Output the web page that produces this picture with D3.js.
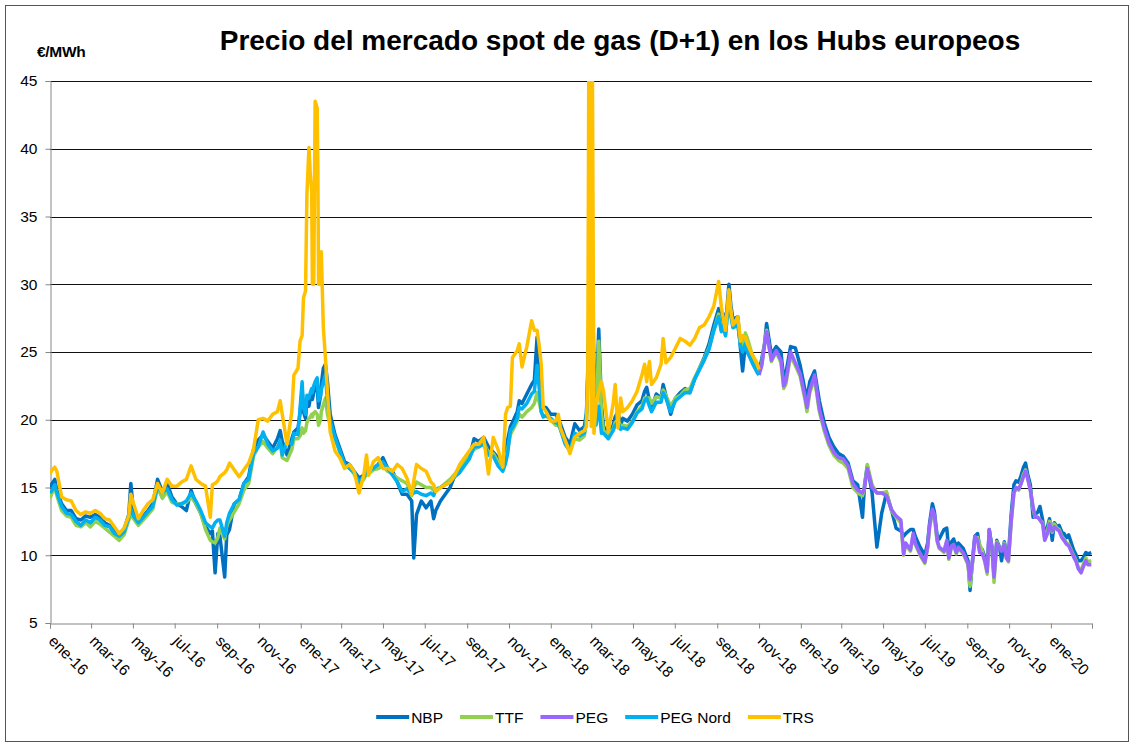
<!DOCTYPE html>
<html lang="es">
<head>
<meta charset="UTF-8">
<title>Precio del mercado spot de gas (D+1)</title>
<script src="https://d3js.org/d3.v7.min.js"></script>
<style>
  body { margin: 0; background: #fff; }
  svg text { font-family: Arial, "Liberation Sans", sans-serif; fill: #000; }
</style>
</head>
<body>
<svg width="1131" height="743"></svg>
<script>
// fechas (aprox. semanales, con días extra en los picos)
const dates = [
  "2016-01-01","2016-01-04","2016-01-08","2016-01-11","2016-01-18","2016-01-25","2016-02-01","2016-02-08","2016-02-15","2016-02-22","2016-02-29","2016-03-07","2016-03-14","2016-03-21","2016-03-28","2016-04-04","2016-04-11","2016-04-18","2016-04-25","2016-04-28",
  "2016-05-02","2016-05-09","2016-05-16","2016-05-23","2016-05-30","2016-06-06","2016-06-13","2016-06-20","2016-06-27","2016-07-04","2016-07-11","2016-07-18","2016-07-25","2016-08-01","2016-08-08","2016-08-15","2016-08-22","2016-08-25","2016-08-29",
  "2016-09-02","2016-09-05","2016-09-12","2016-09-15","2016-09-19","2016-09-26","2016-10-03","2016-10-10","2016-10-17","2016-10-24","2016-10-31","2016-11-07","2016-11-14","2016-11-21","2016-11-28","2016-12-02","2016-12-05","2016-12-12","2016-12-19","2016-12-22","2016-12-28","2016-12-31",
  "2017-01-03","2017-01-05","2017-01-08","2017-01-10","2017-01-13","2017-01-15","2017-01-17","2017-01-18","2017-01-20","2017-01-22","2017-01-25","2017-01-26","2017-01-27","2017-01-30","2017-01-31","2017-02-03","2017-02-06","2017-02-09","2017-02-13","2017-02-20","2017-02-27",
  "2017-03-06","2017-03-13","2017-03-20","2017-03-27","2017-04-03","2017-04-07","2017-04-10","2017-04-17","2017-04-24","2017-05-01","2017-05-08","2017-05-15","2017-05-22","2017-05-29","2017-06-05","2017-06-12","2017-06-15","2017-06-19","2017-06-26",
  "2017-07-03","2017-07-10","2017-07-14","2017-07-17","2017-07-24","2017-07-31","2017-08-07","2017-08-14","2017-08-21","2017-08-28","2017-09-04","2017-09-11","2017-09-18","2017-09-25","2017-10-02","2017-10-09","2017-10-16","2017-10-23","2017-10-27","2017-10-30",
  "2017-11-03","2017-11-06","2017-11-13","2017-11-16","2017-11-20","2017-11-27","2017-12-04","2017-12-08","2017-12-12","2017-12-15","2017-12-18","2017-12-21","2017-12-25",
  "2018-01-01","2018-01-08","2018-01-12","2018-01-15","2018-01-22","2018-01-29","2018-02-05","2018-02-12","2018-02-19","2018-02-22","2018-02-24","2018-02-26","2018-02-28","2018-03-01","2018-03-02","2018-03-05","2018-03-08","2018-03-12","2018-03-16","2018-03-19","2018-03-26",
  "2018-04-02","2018-04-05","2018-04-09","2018-04-13","2018-04-16","2018-04-23","2018-04-30","2018-05-07","2018-05-14","2018-05-18","2018-05-21","2018-05-25","2018-05-28","2018-06-04","2018-06-11","2018-06-14","2018-06-18","2018-06-25",
  "2018-07-02","2018-07-09","2018-07-16","2018-07-23","2018-07-30","2018-08-06","2018-08-13","2018-08-20","2018-08-27","2018-09-03","2018-09-07","2018-09-10","2018-09-13","2018-09-18","2018-09-21","2018-09-24","2018-10-01","2018-10-05","2018-10-08","2018-10-12","2018-10-15","2018-10-22","2018-10-29","2018-11-01",
  "2018-11-05","2018-11-09","2018-11-12","2018-11-19","2018-11-26","2018-12-03","2018-12-07","2018-12-10","2018-12-17","2018-12-24","2018-12-31",
  "2019-01-07","2019-01-10","2019-01-14","2019-01-21","2019-01-28","2019-02-04","2019-02-11","2019-02-18","2019-02-25","2019-03-04","2019-03-11","2019-03-18","2019-03-25","2019-04-01","2019-04-04","2019-04-08","2019-04-15","2019-04-22","2019-04-29",
  "2019-05-06","2019-05-13","2019-05-20","2019-05-27","2019-05-31","2019-06-03","2019-06-10","2019-06-14","2019-06-17","2019-06-24","2019-07-01","2019-07-05","2019-07-08","2019-07-12","2019-07-15","2019-07-19","2019-07-22","2019-07-29","2019-08-02","2019-08-05","2019-08-09","2019-08-12","2019-08-16","2019-08-19","2019-08-26",
  "2019-09-02","2019-09-05","2019-09-09","2019-09-12","2019-09-16","2019-09-19","2019-09-23","2019-09-27","2019-09-30","2019-10-03","2019-10-07","2019-10-10","2019-10-14","2019-10-18","2019-10-21","2019-10-25","2019-10-28","2019-10-31",
  "2019-11-04","2019-11-08","2019-11-11","2019-11-15","2019-11-18","2019-11-22","2019-11-25","2019-11-28","2019-12-02","2019-12-06","2019-12-09","2019-12-13","2019-12-16","2019-12-20","2019-12-23","2019-12-27","2019-12-30",
  "2020-01-03","2020-01-06","2020-01-10","2020-01-13","2020-01-17","2020-01-20","2020-01-24","2020-01-27","2020-02-03","2020-02-07","2020-02-10","2020-02-14","2020-02-17","2020-02-21","2020-02-24","2020-02-29"
];

// €/MWh, una fila por bloque de fechas
const nbp = [
  15.0,15.3,15.6,14.8,13.8,13.3,13.3,12.7,12.6,12.9,12.8,13.0,12.8,12.4,12.2,11.9,11.5,11.9,13.0,15.3,
  13.1,12.4,12.9,13.3,13.8,15.6,14.7,15.3,14.3,13.8,13.6,13.3,14.8,13.8,13.1,12.1,11.6,11.8,8.7,
  11.6,11.4,8.4,11.5,11.9,13.8,14.1,15.3,15.8,17.8,18.5,18.9,18.4,17.9,18.6,19.2,18.4,17.4,18.6,19.1,19.4,20.5,
  22.3,20.6,20.1,21.4,21.0,21.6,21.8,21.5,22.0,22.4,22.8,21.6,20.9,21.8,22.6,23.8,24.1,22.8,20.4,18.9,17.9,
  16.9,16.7,16.2,15.7,15.9,16.3,16.2,16.4,16.7,17.2,16.4,16.2,15.4,14.5,14.5,14.0,9.8,13.0,14.0,
  13.5,14.0,12.7,13.3,14.0,14.5,15.0,15.9,16.2,16.7,17.2,18.6,18.4,18.7,18.0,17.6,17.2,16.8,17.7,18.5,
  19.5,19.8,20.6,21.4,21.2,21.9,22.6,22.9,26.1,24.0,21.4,20.9,20.9,
  20.4,20.4,20.0,19.7,18.7,18.2,19.7,19.2,19.5,20.5,23.0,25.0,29.0,26.0,32.0,24.0,20.5,26.7,21.0,19.5,19.0,
  19.6,20.2,20.6,19.6,20.1,19.9,20.4,21.1,21.4,22.1,22.4,21.4,20.8,21.9,21.6,22.6,21.8,20.4,
  21.6,22.0,22.3,22.0,23.0,23.8,24.6,25.6,27.0,28.2,27.2,27.8,26.8,30.0,28.4,27.4,27.6,25.2,23.6,25.6,25.0,24.4,23.8,23.6,
  24.5,25.6,27.1,24.8,25.4,25.0,23.0,23.4,25.4,25.3,24.0,
  22.2,21.6,22.8,23.6,21.4,19.8,18.7,18.0,17.5,17.3,16.8,15.5,15.2,12.8,15.2,16.6,14.6,10.6,13.1,
  14.6,13.4,12.0,11.8,11.4,11.6,11.9,11.9,11.4,10.6,10.0,10.9,12.4,13.8,13.2,11.4,11.2,11.9,12.0,10.3,11.0,11.2,10.6,10.9,10.5,
  9.6,7.4,9.9,11.4,11.6,10.6,10.4,9.8,9.0,11.9,10.6,8.6,11.1,10.6,9.6,11.0,10.2,10.0,
  13.0,15.2,15.5,15.4,15.8,16.5,16.8,16.0,15.2,12.8,13.0,13.2,13.6,12.6,11.6,12.1,12.7,
  11.1,12.4,12.1,12.2,11.7,11.6,11.3,11.5,10.4,10.0,9.6,9.6,9.8,10.2,10.1,10.2
];

const ttf = [
  14.2,14.6,15.0,14.4,13.3,12.9,12.8,12.2,12.1,12.4,12.1,12.5,12.3,12.0,11.7,11.4,11.1,11.5,12.6,13.0,
  12.7,12.2,12.6,13.0,13.4,15.0,14.2,14.7,13.9,13.8,13.8,13.9,14.3,13.8,13.1,11.9,11.1,11.0,10.9,
  11.3,12.0,11.2,12.2,12.6,13.2,13.8,14.8,15.3,17.3,18.0,18.4,17.9,17.5,18.0,18.3,17.2,17.0,17.8,18.6,18.6,18.8,
  19.4,19.0,19.2,19.8,20.1,20.2,20.4,20.2,20.5,20.6,20.4,20.0,19.6,20.0,20.6,21.1,21.6,20.4,19.6,18.6,17.6,
  16.6,16.5,16.0,15.2,15.6,16.0,16.0,16.3,16.4,16.6,16.2,16.0,15.7,15.5,15.3,14.4,15.0,15.4,15.2,
  15.0,15.0,14.8,14.9,15.0,15.3,15.6,16.0,16.5,16.9,17.4,17.8,18.0,18.3,17.6,17.5,16.9,16.6,17.0,17.8,
  18.9,19.2,19.9,20.4,20.2,20.6,20.9,21.2,22.0,21.3,20.6,20.3,20.3,
  20.0,19.6,19.6,19.3,18.3,17.8,18.6,18.5,18.8,20.0,24.0,30.0,34.0,24.0,28.0,22.0,19.8,25.8,20.5,19.2,18.9,
  19.3,19.8,20.0,19.5,19.6,19.5,19.9,20.6,21.0,21.6,21.6,21.6,21.2,21.7,21.6,22.2,21.8,21.0,
  21.6,21.8,22.2,22.3,23.1,23.8,24.5,25.3,26.6,27.8,26.6,27.2,26.2,29.2,27.8,26.8,27.0,25.6,25.4,26.4,26.0,24.8,23.9,23.6,
  24.1,25.6,26.6,24.3,25.0,24.2,22.3,22.6,24.7,24.0,23.2,
  21.5,20.6,22.0,23.0,20.6,19.2,18.1,17.4,17.0,16.8,16.4,15.0,14.6,14.4,15.0,16.7,15.2,14.6,14.6,
  14.7,13.3,12.8,12.4,10.0,10.8,10.3,11.5,10.8,10.0,9.4,10.5,12.0,13.2,12.8,11.0,10.5,10.2,11.0,9.7,10.6,10.7,10.1,10.5,10.1,
  9.3,7.7,9.6,11.2,11.3,10.8,10.3,9.4,8.6,11.7,10.4,8.0,11.0,10.5,10.4,10.9,9.8,9.5,
  12.4,14.6,14.9,14.8,15.3,16.0,16.3,15.7,14.8,13.4,12.8,12.8,12.6,12.4,11.2,11.8,12.5,
  11.7,12.3,12.0,11.9,11.4,11.2,10.9,10.8,10.0,9.6,9.1,8.9,9.3,9.8,9.5,9.6
];

// PEG Nord y TRS: hasta 2018-11-01
const pegNord = [
  14.6,14.8,15.2,14.6,13.6,13.1,13.0,12.5,12.2,12.6,12.4,12.8,12.6,12.2,12.1,11.6,11.4,11.7,12.8,13.4,
  12.9,12.4,12.8,13.2,13.6,15.1,14.6,14.9,14.1,13.7,13.8,14.0,14.6,14.0,13.3,12.4,12.1,12.0,12.4,
  12.6,12.6,11.4,12.4,13.1,13.8,14.1,15.3,15.6,17.5,18.0,19.1,18.2,17.7,17.9,18.5,17.4,18.4,18.2,19.0,18.9,20.8,
  22.8,20.9,20.4,21.8,21.6,22.0,22.3,22.0,22.5,22.8,23.1,22.2,21.4,21.8,22.2,22.8,23.3,21.4,19.9,18.7,17.7,
  16.7,16.4,16.1,15.4,15.8,16.1,16.2,16.4,16.7,16.9,16.4,15.9,15.4,14.7,14.9,14.5,14.6,14.7,14.5,
  14.4,14.6,14.4,14.8,15.0,15.2,15.4,15.8,16.1,16.6,17.1,18.0,18.0,18.2,17.4,17.3,16.6,16.2,16.8,17.5,
  19.2,19.4,20.1,20.9,20.8,21.2,21.9,22.1,24.0,22.4,20.6,20.2,20.3,
  20.1,19.8,19.7,19.3,18.2,17.7,19.0,18.8,19.0,20.0,23.5,28.0,30.0,24.0,31.0,22.0,19.6,21.0,19.0,19.0,18.6,
  19.2,19.6,19.8,19.3,19.4,19.3,19.8,20.5,20.8,21.4,21.6,21.0,20.6,21.3,21.3,22.0,21.6,20.6,
  21.4,21.7,22.0,22.0,23.0,23.7,24.4,25.2,26.6,27.6,26.5,27.0,26.2,29.0,27.6,26.8,27.0,25.4,25.0,25.6,25.0,24.2,23.5,23.3
];

const trs = [
  16.0,16.3,16.5,16.2,14.3,14.1,14.0,13.3,13.0,13.2,13.1,13.3,13.1,12.7,12.6,12.1,11.6,12.0,12.9,14.5,
  13.8,12.7,13.3,13.8,14.1,15.3,14.6,15.6,15.1,15.1,15.4,15.6,16.6,15.6,15.3,15.1,12.8,15.2,15.3,
  15.5,15.8,16.1,16.3,16.8,16.3,15.8,16.3,16.8,17.8,20.0,20.1,19.9,20.4,20.6,21.4,20.4,18.2,20.6,23.3,23.8,25.8,
  26.2,29.0,29.5,36.6,40.1,38.1,36.9,30.0,30.0,43.5,43.0,38.6,30.0,30.0,32.4,26.8,24.6,22.0,19.1,17.7,17.2,
  16.4,16.7,16.2,14.6,15.9,17.4,15.9,16.9,17.2,16.4,16.4,16.2,16.7,16.4,15.7,14.5,15.5,16.7,16.4,
  16.2,15.4,15.2,14.7,15.0,15.2,15.4,15.9,16.7,17.2,17.7,18.2,18.2,18.7,16.0,18.7,17.8,16.5,20.4,20.9,
  21.0,24.6,25.1,25.6,23.9,25.4,27.3,26.6,26.6,25.5,24.1,20.9,20.6,
  19.9,19.9,20.4,19.4,18.5,17.5,18.7,19.0,19.2,19.5,23.0,55,55,19.5,55,19.0,21.1,22.1,22.8,22.1,19.1,
  21.2,22.6,19.4,21.6,20.6,20.9,21.4,22.1,23.3,24.1,22.8,24.3,22.6,23.1,24.1,26.0,24.2,24.6,
  25.3,26.0,25.8,25.5,26.0,26.8,27.0,27.6,28.4,30.2,28.3,27.4,26.6,29.6,28.0,27.0,27.6,25.8,26.2,26.1,25.6,24.8,24.2,23.7
];

// PEG: desde 2018-11-01
const pegStart = "2018-11-01";
const peg = [
  23.3,
  24.0,25.5,26.5,24.4,25.1,24.4,22.5,22.8,25.0,24.2,23.4,
  21.7,20.9,22.2,23.3,20.8,19.4,18.3,17.6,17.2,17.1,16.6,15.3,14.8,14.6,15.0,16.4,15.0,14.6,14.6,
  14.4,13.4,12.9,12.6,10.1,10.9,10.4,11.6,10.9,10.1,9.5,10.6,12.2,13.4,13.0,11.1,10.6,10.3,11.1,9.8,10.7,10.8,10.2,10.6,10.2,
  9.4,8.2,9.7,11.4,11.1,10.2,10.1,9.5,8.8,11.9,10.5,8.4,10.9,10.5,10.3,10.8,9.8,9.6,
  12.5,14.6,15.0,14.9,15.2,15.8,16.2,15.7,14.8,13.6,12.8,12.8,12.6,12.3,11.1,11.6,12.3,
  11.8,12.1,11.9,11.8,11.3,11.1,10.8,10.7,9.9,9.5,9.0,8.7,9.1,9.6,9.3,9.3
];

const yTicks = [5, 10, 15, 20, 25, 30, 35, 40, 45];
const monthNames = ["ene","feb","mar","abr","may","jun","jul","ago","sep","oct","nov","dic"];
const seriesNames = ["NBP", "TTF", "PEG", "PEG Nord", "TRS"];
const seriesColors = ["#0070C0", "#92D050", "#9966FF", "#00B0F0", "#FFC000"];

// comprobación de longitudes
const iPeg = dates.indexOf(pegStart);
if (nbp.length !== dates.length || ttf.length !== dates.length ||
    pegNord.length !== iPeg + 1 || trs.length !== iPeg + 1 ||
    peg.length !== dates.length - iPeg) {
  throw new Error("longitudes: dates " + dates.length + " nbp " + nbp.length + " ttf " + ttf.length +
    " pegNord " + pegNord.length + " trs " + trs.length + " peg " + peg.length + " iPeg " + iPeg);
}

const parse = d3.timeParse("%Y-%m-%d");
const fechas = dates.map(parse);

const svg = d3.select("svg");
const mLeft = 50, mRight = 1092, mTop = 81, mBottom = 623;

const x = d3.scaleTime()
  .domain([new Date(2016, 0, 1), new Date(2020, 2, 1)])
  .range([mLeft, mRight]);
const y = d3.scaleLinear().domain([5, 45]).range([mBottom, mTop]);

// marco exterior
svg.append("rect")
  .attr("x", 5.5).attr("y", 5.5).attr("width", 1123).attr("height", 736)
  .attr("fill", "none").attr("stroke", "#555").attr("stroke-width", 1);

// título
svg.append("text")
  .attr("x", 620).attr("y", 50)
  .attr("text-anchor", "middle")
  .style("font-size", "28px").style("font-weight", "bold")
  .text("Precio del mercado spot de gas (D+1) en los Hubs europeos");

svg.append("text")
  .attr("x", 37).attr("y", 57)
  .style("font-size", "15.5px").style("font-weight", "bold")
  .style("letter-spacing", "-0.3px")
  .text("€/MWh");

// líneas de cuadrícula
svg.append("g")
  .selectAll("line")
  .data(yTicks.filter(v => v > 5))
  .join("line")
  .attr("x1", mLeft).attr("x2", mRight)
  .attr("y1", d => Math.round(y(d)) + 0.5).attr("y2", d => Math.round(y(d)) + 0.5)
  .attr("stroke", "#111").attr("stroke-width", 1);

// eje Y
const yAxis = svg.append("g")
  .attr("transform", `translate(${mLeft + 0.5},0)`)
  .call(d3.axisLeft(y).tickValues(yTicks).tickSize(5).tickPadding(8));
yAxis.selectAll("path, line").attr("stroke", "#868686");
yAxis.selectAll("text").style("font-size", "15.5px").style("font-family", "Arial, 'Liberation Sans', sans-serif");

// eje X
const xTicks = d3.timeMonth.every(2).range(new Date(2016, 0, 1), new Date(2020, 2, 2));
const lastTick = xTicks[xTicks.length - 1];
const xAxis = svg.append("g")
  .attr("transform", `translate(0,${mBottom + 0.5})`)
  .call(d3.axisBottom(x).tickValues(xTicks).tickSize(5)
    .tickFormat(d => d === lastTick ? "" : monthNames[d.getMonth()] + "-" + d3.timeFormat("%y")(d)));
xAxis.selectAll("path, line").attr("stroke", "#868686");
xAxis.selectAll("text")
  .style("font-size", "15.5px").style("font-family", "Arial, 'Liberation Sans', sans-serif")
  .attr("x", 11).attr("y", 15).attr("dy", 0)
  .attr("transform", "rotate(45)")
  .style("text-anchor", "start");

// series
svg.append("clipPath").attr("id", "plot")
  .append("rect").attr("x", mLeft).attr("y", mTop).attr("width", mRight - mLeft + 2).attr("height", mBottom - mTop);

const seriesValues = [nbp, ttf, peg, pegNord, trs];
const seriesStart = [0, 0, iPeg, 0, 0];
const series = seriesNames.map((name, k) => ({
  name,
  color: seriesColors[k],
  points: seriesValues[k].map((v, i) => ({ date: fechas[seriesStart[k] + i], value: v }))
}));

const line = d3.line().x(d => x(d.date)).y(d => y(d.value));

svg.append("g")
  .attr("clip-path", "url(#plot)")
  .selectAll("path")
  .data(series)
  .join("path")
  .attr("d", d => line(d.points))
  .attr("fill", "none")
  .attr("stroke", d => d.color)
  .attr("stroke-width", 3.5)
  .attr("stroke-linejoin", "round");

// leyenda
const legend = svg.append("g");
const items = legend.selectAll("g").data(series).join("g");
items.append("line")
  .attr("x1", 0).attr("x2", 33).attr("y1", 0).attr("y2", 0)
  .attr("stroke", d => d.color).attr("stroke-width", 4);
items.append("text")
  .attr("x", 35).attr("y", 5.5)
  .style("font-size", "15.5px")
  .text(d => d.name);

let widths = [];
items.each(function () { widths.push(this.getBBox().width); });
const gap = 17;
const total = d3.sum(widths) + gap * (widths.length - 1);
let pos = 595 - total / 2;
items.attr("transform", (d, i) => {
  const t = `translate(${pos},717)`;
  pos += widths[i] + gap;
  return t;
});
</script>
</body>
</html>
